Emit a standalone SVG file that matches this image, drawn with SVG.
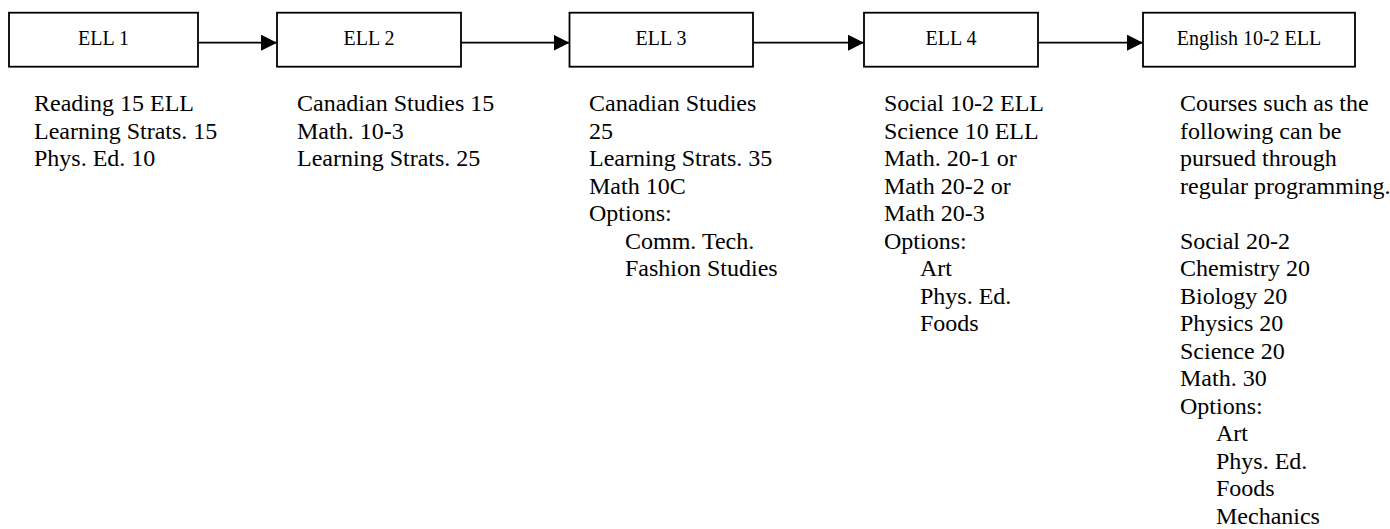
<svg xmlns="http://www.w3.org/2000/svg" width="1390" height="529" viewBox="0 0 1390 529">
  <style>
    .box { fill: #ffffff; stroke: #000000; stroke-width: 1.8; }
    .label { font-family: "Liberation Serif", "Times New Roman", serif; font-size: 20px; fill: #000000; text-anchor: middle; }
    .list { font-family: "Liberation Serif", "Times New Roman", serif; font-size: 24px; fill: #000000; }
    .edge { stroke: #000000; stroke-width: 1.8; fill: none; marker-end: url(#arrow); }
  </style>
  <defs>
    <marker id="arrow" markerUnits="userSpaceOnUse" markerWidth="16" markerHeight="16" refX="16" refY="8" orient="auto">
      <path d="M0,0 L16,8 L0,16 Z" fill="#000000"/>
    </marker>
  </defs>
  <rect width="1390" height="529" fill="#ffffff"/>

  <!-- connectors between stages -->
  <g id="connectors">
    <line class="edge" x1="198" y1="42.7" x2="277" y2="42.7"/>
    <line class="edge" x1="461" y1="42.7" x2="569.5" y2="42.7"/>
    <line class="edge" x1="753" y1="42.7" x2="864" y2="42.7"/>
    <line class="edge" x1="1038" y1="42.7" x2="1143" y2="42.7"/>
  </g>

  <!-- stage 1 -->
  <g id="ell1">
    <rect class="box" x="9" y="12.7" width="189" height="54"/>
    <text class="label" x="103.5" y="45">ELL 1</text>
    <text class="list" y="111">
      <tspan x="34">Reading 15 ELL</tspan>
      <tspan x="34" dy="27.5">Learning Strats. 15</tspan>
      <tspan x="34" dy="27.5">Phys. Ed. 10</tspan>
    </text>
  </g>

  <!-- stage 2 -->
  <g id="ell2">
    <rect class="box" x="277" y="12.7" width="184" height="54"/>
    <text class="label" x="369" y="45">ELL 2</text>
    <text class="list" y="111">
      <tspan x="297">Canadian Studies 15</tspan>
      <tspan x="297" dy="27.5">Math. 10-3</tspan>
      <tspan x="297" dy="27.5">Learning Strats. 25</tspan>
    </text>
  </g>

  <!-- stage 3 -->
  <g id="ell3">
    <rect class="box" x="569.5" y="12.7" width="183.5" height="54"/>
    <text class="label" x="661" y="45">ELL 3</text>
    <text class="list" y="111">
      <tspan x="589">Canadian Studies</tspan>
      <tspan x="589" dy="27.5">25</tspan>
      <tspan x="589" dy="27.5">Learning Strats. 35</tspan>
      <tspan x="589" dy="27.5">Math 10C</tspan>
      <tspan x="589" dy="27.5">Options:</tspan>
      <tspan x="625" dy="27.5">Comm. Tech.</tspan>
      <tspan x="625" dy="27.5">Fashion Studies</tspan>
    </text>
  </g>

  <!-- stage 4 -->
  <g id="ell4">
    <rect class="box" x="864" y="12.7" width="174" height="54"/>
    <text class="label" x="951" y="45">ELL 4</text>
    <text class="list" y="111">
      <tspan x="884">Social 10-2 ELL</tspan>
      <tspan x="884" dy="27.5">Science 10 ELL</tspan>
      <tspan x="884" dy="27.5">Math. 20-1 or</tspan>
      <tspan x="884" dy="27.5">Math 20-2 or</tspan>
      <tspan x="884" dy="27.5">Math 20-3</tspan>
      <tspan x="884" dy="27.5">Options:</tspan>
      <tspan x="920" dy="27.5">Art</tspan>
      <tspan x="920" dy="27.5">Phys. Ed.</tspan>
      <tspan x="920" dy="27.5">Foods</tspan>
    </text>
  </g>

  <!-- final stage -->
  <g id="english10-2">
    <rect class="box" x="1143" y="12.7" width="212" height="54"/>
    <text class="label" x="1249" y="45">English 10-2 ELL</text>
    <text class="list" y="111">
      <tspan x="1180">Courses such as the</tspan>
      <tspan x="1180" dy="27.5">following can be</tspan>
      <tspan x="1180" dy="27.5">pursued through</tspan>
      <tspan x="1180" dy="27.5">regular programming.</tspan>
      <tspan x="1180" dy="55">Social 20-2</tspan>
      <tspan x="1180" dy="27.5">Chemistry 20</tspan>
      <tspan x="1180" dy="27.5">Biology 20</tspan>
      <tspan x="1180" dy="27.5">Physics 20</tspan>
      <tspan x="1180" dy="27.5">Science 20</tspan>
      <tspan x="1180" dy="27.5">Math. 30</tspan>
      <tspan x="1180" dy="27.5">Options:</tspan>
      <tspan x="1216" dy="27.5">Art</tspan>
      <tspan x="1216" dy="27.5">Phys. Ed.</tspan>
      <tspan x="1216" dy="27.5">Foods</tspan>
      <tspan x="1216" dy="27.5">Mechanics</tspan>
    </text>
  </g>
</svg>
